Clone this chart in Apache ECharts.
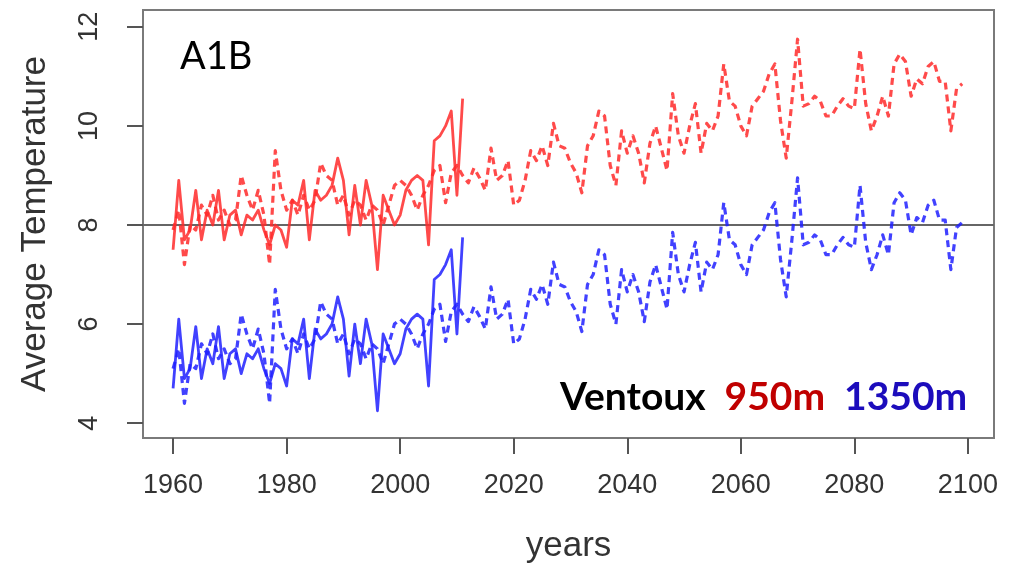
<!DOCTYPE html>
<html>
<head>
<meta charset="utf-8">
<script src="https://cdn.jsdelivr.net/npm/echarts@6/dist/echarts.min.js"></script>
<style>
html,body{margin:0;padding:0;background:#fff;}
#chart{width:1019px;height:569px;}
</style>
</head>
<body>
<div id="chart"></div>
<script>
// ---- data ----
const obsStartYear = 1960;   // observed series: 1960-2011
const modStartYear = 1960;   // model (A1B) series: 1960-2099
const xTicks = [1960, 1980, 2000, 2020, 2040, 2060, 2080, 2100];
const yTicks = [4, 6, 8, 10, 12];
const refLine = 8;

const red950Obs = [7.5,8.9,7.7,7.9,8.7,7.7,8.3,8.0,8.7,7.7,
  8.2,8.3,7.8,8.2,8.1,8.3,7.9,7.6,8.0,7.9,
  7.55,8.5,8.4,8.9,7.7,8.7,8.5,8.6,8.8,9.35,
  8.9,7.8,8.8,8.0,8.9,8.4,7.1,8.6,8.3,8.0,
  8.2,8.7,8.9,9.0,8.9,7.6,9.7,9.8,10.0,10.3,
  8.6,10.55];

const red950Mod = [7.9,8.3,7.2,8.0,7.9,8.4,8.2,8.6,8.1,8.3,
  8.0,8.1,9.0,8.6,8.3,8.7,8.2,7.2,9.5,8.7,
  8.3,8.5,8.2,8.6,8.3,8.5,9.25,9.0,8.9,8.4,
  8.6,8.2,8.5,8.4,8.1,8.4,8.3,8.0,8.4,8.8,
  8.9,8.8,8.6,8.3,8.6,8.8,9.1,9.2,8.45,9.05,
  9.2,9.0,8.85,9.15,8.95,8.7,9.55,8.9,9.0,9.3,
  8.4,8.5,8.9,9.5,9.3,9.6,9.2,10.05,9.6,9.55,
  9.25,9.05,8.65,9.6,9.8,10.3,10.2,9.2,8.8,9.9,
  9.45,9.8,9.45,8.85,9.65,10.0,9.55,9.1,10.65,9.8,
  9.45,10.0,10.45,9.45,10.05,9.9,10.2,11.25,10.5,10.4,
  10.0,9.8,10.4,10.55,10.7,11.05,11.25,10.1,9.35,10.5,
  11.75,10.4,10.45,10.6,10.5,10.2,10.2,10.4,10.55,10.4,
  10.35,11.55,10.45,9.9,10.2,10.6,10.2,11.25,11.45,11.3,
  10.6,10.95,10.85,11.2,11.3,10.9,10.9,9.9,10.75,10.85];

const blue1350Obs = [4.7,6.1,4.9,5.1,5.95,4.9,5.5,5.2,5.95,4.9,
  5.4,5.5,5.0,5.4,5.3,5.5,5.1,4.8,5.2,5.1,
  4.75,5.7,5.6,6.1,4.9,5.9,5.7,5.8,6.0,6.55,
  6.1,4.95,6.0,5.2,6.1,5.6,4.25,5.8,5.5,5.2,
  5.4,5.9,6.1,6.2,6.1,4.75,6.9,7.0,7.2,7.5,
  5.8,7.75];

const blue1350Mod = [5.1,5.5,4.4,5.2,5.1,5.6,5.4,5.8,5.3,5.5,
  5.2,5.3,6.2,5.8,5.5,5.9,5.4,4.4,6.7,5.9,
  5.5,5.7,5.4,5.8,5.5,5.7,6.45,6.2,6.1,5.6,
  5.8,5.4,5.7,5.6,5.3,5.6,5.5,5.2,5.6,6.0,
  6.1,6.0,5.8,5.5,5.8,6.0,6.3,6.4,5.65,6.25,
  6.4,6.2,6.05,6.35,6.15,5.9,6.75,6.1,6.2,6.5,
  5.6,5.7,6.1,6.7,6.5,6.8,6.4,7.25,6.8,6.75,
  6.45,6.25,5.85,6.8,7.0,7.5,7.4,6.4,6.0,7.1,
  6.65,7.0,6.65,6.05,6.85,7.2,6.75,6.3,7.85,7.0,
  6.65,7.2,7.65,6.65,7.25,7.1,7.4,8.45,7.7,7.6,
  7.2,7.0,7.6,7.75,7.9,8.25,8.45,7.3,6.55,7.7,
  8.95,7.6,7.65,7.8,7.7,7.4,7.4,7.6,7.75,7.6,
  7.55,8.8,7.65,7.1,7.4,7.8,7.4,8.45,8.65,8.5,
  7.8,8.15,8.05,8.4,8.5,8.1,8.1,7.1,7.95,8.05];

// ---- build [year, value] pairs ----
function pairs(start, vals){ return vals.map((v,i)=>[start+i, v]); }

const RED = '#ff2a2a';
const BLUE = '#2020ff';
const AXIS_GREY = '#555';

const chart = echarts.init(document.getElementById('chart'), null, {renderer:'canvas'});

function lineSeries(name, data, color, dashed){
  return {
    name: name,
    type: 'line',
    data: data,
    showSymbol: false,
    symbol: 'none',
    silent: true,
    z: dashed ? 3 : 4,
    lineStyle: {
      color: color,
      width: dashed ? 3.2 : 2.8,
      type: dashed ? [7, 5] : 'solid',
      cap: 'butt',
      join: 'round',
      opacity: 0.85
    }
  };
}

const series = [
  lineSeries('950m model', pairs(modStartYear, red950Mod), RED, true),
  lineSeries('1350m model', pairs(modStartYear, blue1350Mod), BLUE, true),
  lineSeries('950m observed', pairs(obsStartYear, red950Obs), RED, false),
  lineSeries('1350m observed', pairs(obsStartYear, blue1350Obs), BLUE, false)
];
series[0].markLine = {
  silent: true,
  symbol: ['none','none'],
  label: {show:false},
  lineStyle: {color:'#666', width:2, type:'solid'},
  data: [{yAxis: refLine}],
  z: 2
};

const plain = v => String(v);

const option = {
  backgroundColor: '#fff',
  animation: false,
  grid: {
    left: 143, right: 25, top: 10, bottom: 131,
    show: true, borderColor: '#7a7a7a', borderWidth: 2, backgroundColor: 'transparent'
  },
  xAxis: {
    type: 'value',
    min: 1954.7, max: 2104.6,
    name: 'years',
    nameLocation: 'middle',
    nameGap: 91,
    nameTextStyle: {fontFamily:'Liberation Sans', fontSize:35, color:'#333'},
    axisLine: {show:false},
    splitLine: {show:false},
    axisTick: {show:true, customValues: xTicks, length:16, inside:false,
      lineStyle:{color:AXIS_GREY, width:2}},
    axisLabel: {show:true, customValues: xTicks, margin: 34, formatter: plain,
      fontFamily:'Liberation Sans', fontSize:27, color:'#333'}
  },
  yAxis: {
    type: 'value',
    min: 3.70, max: 12.34,
    name: 'Average Temperature',
    nameLocation: 'middle',
    nameGap: 90,
    nameRotate: 90,
    nameTextStyle: {fontFamily:'Liberation Sans', fontSize:35, color:'#333'},
    axisLine: {show:false},
    splitLine: {show:false},
    axisTick: {show:true, customValues: yTicks, length:16, inside:false,
      lineStyle:{color:AXIS_GREY, width:2}},
    axisLabel: {show:true, customValues: yTicks, rotate: 90, margin: 40, formatter: plain,
      fontFamily:'Liberation Sans', fontSize:27, color:'#333'}
  },
  graphic: [
    {
      type:'text', left: 180, top: 38, silent:true,
      style:{text:'A1B', fontFamily:'Lato', fontSize:38, fill:'#000'}
    },
    {
      type:'text', left: 560, top: 378, silent:true,
      style:{
        text:'{k|Ventoux  }{r|950m  }{b|1350m}',
        rich:{
          k:{fontFamily:'Lato', fontWeight:'bold', fontSize:39, fill:'#000', color:'#000'},
          r:{fontFamily:'Lato', fontWeight:'bold', fontSize:39, fill:'#c00000', color:'#c00000'},
          b:{fontFamily:'Lato', fontWeight:'bold', fontSize:39, fill:'#1c0cbc', color:'#1c0cbc'}
        }
      }
    }
  ],
  series: series
};
chart.setOption(option);
</script>
</body>
</html>
